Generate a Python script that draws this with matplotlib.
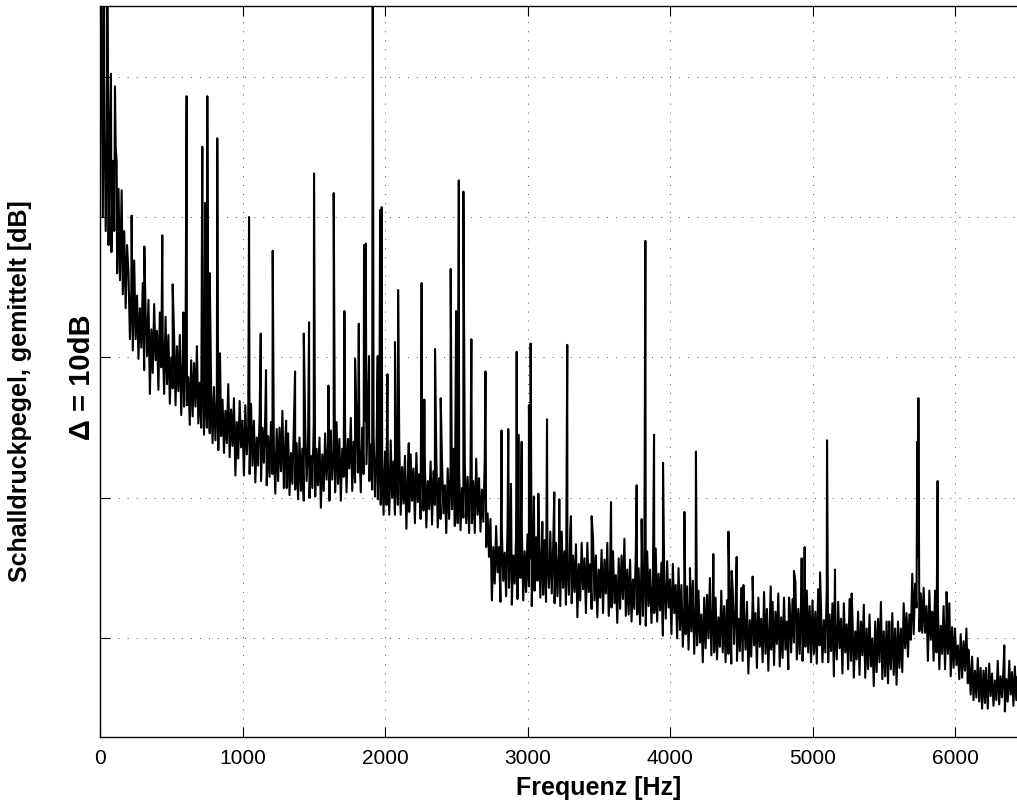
import matplotlib
matplotlib.use('Agg')
import matplotlib.pyplot as plt
import numpy as np

# ---------------- data ----------------
# broadband level, sampled every 10 Hz starting at 0 Hz  [dB, relative]
base_step_hz = 10
base_level = [
    47.0, 53.0, 40.0, 50.0, 39.0, 46.0, 38.0, 47.0, 37.5, 44.0, 39.0, 45.0, 36.0, 42.0, 35.5, 41.0, 34.5, 39.0, 33.5, 38.0,   # 0
    35.9, 31.3, 34.9, 30.5, 36.9, 31.3, 34.4, 29.9, 33.5, 30.7, 35.3, 29.1, 33.2, 30.1, 34.1, 27.4, 32.0, 28.9, 33.8, 29.8,   # 200
    31.9, 27.7, 33.2, 29.3, 31.5, 27.4, 32.9, 28.1, 31.6, 26.7, 30.0, 27.8, 31.5, 26.6, 30.8, 27.6, 31.6, 25.9, 29.7, 26.5,   # 400
    30.3, 26.6, 28.6, 25.2, 29.8, 25.8, 29.6, 26.5, 30.8, 25.3, 28.2, 25.0, 28.9, 24.5, 27.5, 25.0, 29.0, 24.6, 27.9, 23.9,   # 600
    27.9, 24.1, 27.1, 23.4, 28.7, 24.4, 27.0, 23.2, 26.2, 23.9, 28.1, 22.9, 26.3, 23.7, 27.1, 21.6, 25.4, 22.8, 26.9, 23.6,   # 800
    25.5, 21.6, 26.6, 23.1, 25.1, 21.7, 26.7, 22.3, 25.5, 21.1, 24.3, 22.3, 25.7, 21.2, 25.0, 22.5, 26.1, 20.9, 24.4, 21.5,   # 1000
    25.4, 21.7, 23.7, 20.3, 24.9, 21.2, 25.0, 21.9, 26.2, 20.7, 23.9, 20.7, 24.6, 20.2, 23.2, 21.0, 25.0, 20.6, 23.9, 19.9,   # 1200
    24.3, 20.5, 23.5, 19.8, 25.1, 21.2, 23.8, 20.0, 23.0, 20.7, 25.3, 20.1, 23.5, 20.9, 24.3, 19.3, 23.1, 20.5, 24.6, 21.3,   # 1400
    23.7, 19.8, 24.8, 21.3, 23.3, 20.4, 25.4, 21.0, 24.2, 19.8, 23.5, 21.5, 24.9, 20.4, 24.2, 22.1, 25.7, 20.5, 24.0, 21.1,   # 1600
    25.5, 21.8, 23.8, 20.4, 25.0, 21.7, 25.5, 22.4, 26.7, 21.2, 23.8, 20.6, 24.5, 20.1, 23.1, 19.9, 23.9, 19.5, 22.8, 18.8,   # 1800
    23.3, 19.5, 22.5, 18.8, 24.1, 20.0, 22.6, 18.8, 21.8, 19.5, 24.0, 18.8, 22.2, 19.6, 23.0, 17.8, 21.6, 19.0, 23.1, 19.8,   # 2000
    22.1, 18.2, 23.2, 19.7, 21.7, 18.5, 23.5, 19.1, 22.3, 17.9, 21.2, 19.2, 22.6, 18.1, 21.9, 19.5, 23.1, 17.9, 21.4, 18.5,   # 2200
    22.6, 18.9, 20.9, 17.5, 22.1, 18.5, 22.3, 19.2, 23.5, 18.0, 21.4, 18.2, 22.1, 17.7, 20.7, 18.6, 22.6, 18.2, 21.5, 17.5,   # 2400
    22.0, 18.2, 21.2, 17.5, 22.8, 18.8, 21.4, 17.6, 20.6, 18.3, 22.7, 16.5, 18.9, 15.8, 18.5, 12.7, 16.5, 13.9, 18.0, 14.7,   # 2600
    16.5, 12.6, 17.6, 14.1, 16.1, 13.0, 18.0, 13.6, 16.8, 12.4, 15.9, 13.9, 17.3, 12.8, 16.6, 14.3, 17.9, 12.7, 16.2, 13.3,   # 2800
    17.4, 13.7, 15.7, 12.3, 16.9, 13.4, 17.2, 14.1, 18.4, 12.9, 16.3, 13.1, 17.0, 12.6, 15.6, 13.6, 17.6, 13.2, 16.5, 12.5,   # 3000
    16.8, 13.0, 16.0, 12.3, 17.6, 13.6, 16.2, 12.4, 15.4, 13.1, 17.7, 12.5, 15.9, 13.3, 16.7, 11.5, 15.3, 12.7, 16.8, 13.5,   # 3200
    15.7, 11.8, 16.8, 13.3, 15.3, 12.1, 17.1, 12.7, 15.9, 11.5, 14.9, 12.9, 16.3, 11.8, 15.6, 13.2, 16.8, 11.6, 15.1, 12.2,   # 3400
    16.2, 12.5, 14.5, 11.1, 15.7, 12.1, 15.9, 12.8, 17.1, 11.6, 14.9, 11.7, 15.6, 11.2, 14.2, 12.1, 16.1, 11.7, 15.0, 11.0,   # 3600
    15.4, 11.6, 14.6, 10.9, 16.2, 12.3, 14.9, 11.1, 14.1, 11.8, 16.4, 11.2, 14.6, 12.0, 15.4, 10.2, 14.0, 11.4, 15.5, 12.2,   # 3800
    14.2, 10.3, 15.3, 11.8, 13.8, 10.0, 15.0, 10.6, 13.8, 9.4, 12.3, 10.3, 13.7, 9.2, 13.0, 10.5, 14.1, 8.9, 12.4, 9.5,       # 4000
    13.4, 9.7, 11.7, 8.3, 12.9, 9.3, 13.1, 10.0, 14.3, 8.8, 12.2, 9.0, 12.9, 8.5, 11.5, 9.4, 13.4, 9.0, 12.3, 8.3,            # 4200
    12.7, 8.9, 11.9, 8.2, 13.5, 9.6, 12.2, 8.4, 11.4, 9.1, 13.6, 8.4, 11.8, 9.2, 12.6, 7.5, 11.3, 8.7, 12.8, 9.5,             # 4400
    11.8, 7.9, 12.9, 9.4, 11.4, 8.3, 13.3, 8.9, 12.1, 7.7, 11.2, 9.2, 12.6, 8.1, 11.9, 9.6, 13.2, 8.0, 11.5, 8.6,             # 4600
    12.9, 9.2, 11.2, 7.8, 12.4, 9.0, 12.8, 9.7, 14.0, 8.5, 12.1, 8.9, 12.8, 8.4, 11.4, 9.4, 13.4, 9.0, 12.3, 8.3,             # 4800
    12.7, 8.9, 11.9, 8.2, 13.5, 9.5, 12.1, 8.3, 11.3, 9.0, 13.5, 8.3, 11.7, 9.1, 12.5, 7.3, 11.1, 8.5, 12.6, 9.3,             # 5000
    11.4, 7.5, 12.5, 9.0, 11.0, 7.8, 12.8, 8.4, 11.6, 7.2, 10.5, 8.5, 11.9, 7.4, 11.2, 8.8, 12.4, 7.2, 10.7, 7.8,             # 5200
    11.7, 8.0, 10.0, 6.6, 11.2, 7.6, 11.4, 8.3, 12.6, 7.1, 10.5, 7.3, 11.2, 6.8, 9.8, 7.8, 11.8, 7.4, 10.7, 6.7,              # 5400
    11.2, 7.9, 10.7, 7.6, 12.5, 9.3, 11.8, 8.7, 11.7, 9.9, 14.6, 10.3, 13.9, 12.2, 15.8, 10.5, 13.2, 10.4, 13.6, 10.4,        # 5600
    12.3, 8.4, 13.4, 9.9, 11.9, 8.4, 13.4, 9.0, 12.2, 7.8, 10.9, 8.9, 12.3, 7.8, 11.6, 8.9, 12.5, 7.3, 10.8, 7.9,             # 5800
    10.7, 8.1, 9.5, 7.1, 10.3, 7.2, 9.8, 7.7, 10.7, 6.8, 8.2, 6.0, 8.7, 5.6, 7.7, 5.8, 8.6, 5.5, 7.9, 5.0,                    # 6000
    7.7, 5.4, 7.2, 5.0, 8.2, 5.9, 7.5, 5.2, 7.0, 5.6, 8.4, 5.3, 7.3, 5.8, 7.8, 4.8, 7.1, 5.5, 8.0, 6.0,                       # 6200
    7.6, 5.2, 8.0, 5.6, 7.3, 5.0,                                                                                             # 6400
]

# tonal peaks (frequency [Hz], level [dB])
peak_freq = [8, 28, 50, 77, 105, 117, 152, 222, 311, 437,
             510, 585, 608, 718, 737, 753, 770, 823, 842, 1046,
             1128, 1165, 1212, 1306, 1369, 1430, 1467, 1502, 1603, 1640,
             1715, 1790, 1816, 1853, 1865, 1888, 1914, 1949, 1966, 1977,
             2017, 2070, 2092, 2167, 2257, 2276, 2351, 2391, 2461, 2499,
             2518, 2550, 2606, 2705, 2818, 2865, 2884, 2924, 2936, 2959,
             3010, 3022, 3045, 3076, 3104, 3137, 3188, 3223, 3279, 3305,
             3450, 3586, 3766, 3801, 3827, 3888, 3951, 4101, 4140, 4182,
             4304, 4410, 4433, 4468, 4515, 4580, 4707, 4835, 4870, 4924,
             4945, 5053, 5102, 5158, 5275, 5539, 5735, 5743, 5841, 5878,
             5941, 6094, 6218, 6346, 6381]
peak_level = [62, 62, 62, 50.2, 49.3, 43.9, 41.9, 40.1, 37.9, 38.7,
              35.2, 33.2, 48.6, 45.0, 41.0, 48.6, 36.0, 45.6, 30.3, 40.0,
              31.7, 29.1, 37.6, 25.5, 29.0, 31.7, 32.5, 43.1, 28.0, 41.7,
              33.3, 29.9, 32.4, 38.0, 38.1, 30.1, 62, 30.1, 40.5, 40.7,
              28.8, 31.1, 34.8, 23.9, 35.3, 27.0, 30.6, 27.1, 36.3, 33.3,
              42.6, 41.8, 31.3, 29.0, 24.8, 24.9, 21.0, 30.4, 24.5, 24.0,
              26.6, 31.0, 20.1, 20.3, 18.3, 25.6, 20.4, 19.9, 30.9, 18.7,
              18.7, 19.7, 20.9, 18.5, 38.3, 24.5, 22.5, 19.0, 15.0, 23.3,
              16.0, 17.6, 14.8, 15.8, 13.8, 14.4, 13.7, 12.9, 14.8, 15.7,
              16.5, 14.7, 24.1, 14.9, 13.2, 11.2, 24.0, 27.1, 11.8, 21.2,
              13.3, 9.2, 7.9, 9.5, 8.4]

x_ticks = [0, 1000, 2000, 3000, 4000, 5000, 6000]
y_grid = [10, 20, 30, 40, 50]
x_label = 'Frequenz [Hz]'
y_label = 'Schalldruckpegel, gemittelt [dB]'
delta_label = 'Δ = 10dB'

assert len(peak_freq) == len(peak_level)

# ---------------- figure ----------------
plt.rcParams['font.family'] = ['Liberation Sans', 'DejaVu Sans']

W, H = 1017, 803
fig = plt.figure(figsize=(W / 100, H / 100), dpi=100)
# axes run 0..7000 Hz; the picture is cut at ~6435 Hz on the right
ax = fig.add_axes([100 / W, 65.3 / H, 997.5 / W, 730.4 / H])

base_freq = np.arange(len(base_level)) * base_step_hz
f_all = np.concatenate([base_freq, np.asarray(peak_freq, float)])
l_all = np.concatenate([np.asarray(base_level, float), np.asarray(peak_level, float)])
order = np.argsort(f_all, kind='stable')
ax.plot(f_all[order], l_all[order], color='black', lw=1.5)

ax.set_xlim(0, 7000)
ax.set_ylim(3, 55)
ax.set_xticks(x_ticks)
ax.set_xticklabels([str(t) for t in x_ticks])
ax.set_yticks(y_grid)
ax.set_yticklabels([])

ax.set_axisbelow(True)
ax.grid(True, color='0.3', linestyle=(0, (1, 8.3)), lw=0.7)
ax.tick_params(axis='both', direction='in', length=7, width=0.8,
               top=True, right=False, labelsize=15, pad=8, colors='black')
for side in ('left', 'bottom', 'top'):
    ax.spines[side].set_linewidth(1.0)
    ax.spines[side].set_color('black')
ax.spines['right'].set_visible(False)

ax.set_xlabel(x_label, fontsize=18, fontweight='bold', labelpad=6)

fig.text(20 / W, 1 - 391 / H, y_label, rotation=90, ha='center', va='center',
         fontsize=18, fontweight='bold')
fig.text(82 / W, 1 - 377 / H, delta_label, rotation=90, ha='center', va='center',
         fontsize=21, fontweight='bold')

fig.savefig('out.png', dpi=100)
